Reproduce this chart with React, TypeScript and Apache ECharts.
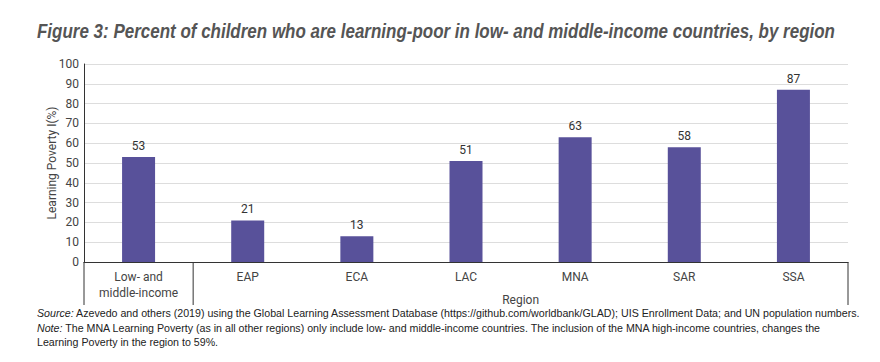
import React, { useEffect, useRef } from "react";
import * as echarts from "echarts";

const categories = ["Low- and\nmiddle-income", "EAP", "ECA", "LAC", "MNA", "SAR", "SSA"];
const values = [53, 21, 13, 51, 63, 58, 87];
const yMin = 0;
const yMax = 100;
const yInterval = 10;
const titleText =
  "Figure 3: Percent of children who are learning-poor in low- and middle-income countries, by region";
const groupName = "Region";
const yAxisName = "Learning Poverty I(%)";
const sourceLabel = "Source:";
const sourceLine1 =
  " Azevedo and others (2019) using the Global Learning Assessment Database (https://github.com/worldbank/GLAD); UIS Enrollment Data; and UN population numbers.";
const noteLabel = "Note:";
const noteLine =
  " The MNA Learning Poverty (as in all other regions) only include low- and middle-income countries. The inclusion of the MNA high-income countries, changes the";
const noteLine2 = "Learning Poverty in the region to 59%.";

const BAR = "#58519A";
const SANS = "'Liberation Sans', Arial, sans-serif";

function measure(text: string, font: string): number {
  const c = document.createElement("canvas");
  const ctx = c.getContext("2d");
  if (!ctx) return text.length * 6;
  ctx.font = font;
  return ctx.measureText(text).width;
}

export default function App() {
  const ref = useRef<HTMLDivElement>(null);
  useEffect(() => {
    document.body.style.margin = "0";
    if (!ref.current) return;
    const chart = echarts.init(ref.current, null, { renderer: "svg" });
    chart.setOption({
      animation: false,
      backgroundColor: "#ffffff",
      grid: { left: 84, right: 32, top: 64, bottom: 100, containLabel: false },
      xAxis: {
        type: "category",
        data: categories,
        axisLine: { show: true, lineStyle: { color: "#333333", width: 1 } },
        axisTick: { show: false },
        axisLabel: {
          fontFamily: "Roboto, sans-serif",
          fontSize: 12,
          color: "#444444",
          margin: 7,
          lineHeight: 16,
          interval: 0,
        },
      },
      yAxis: {
        type: "value",
        min: yMin,
        max: yMax,
        interval: yInterval,
        name: yAxisName,
        nameLocation: "middle",
        nameGap: 26,
        nameMoveOverlap: false,
        nameTextStyle: { fontFamily: "Roboto, sans-serif", fontSize: 12, color: "#444444" },
        axisLine: { show: true, lineStyle: { color: "#333333", width: 1 } },
        axisTick: { show: false },
        axisLabel: { fontFamily: "Roboto, sans-serif", fontSize: 12, color: "#444444", margin: 5 },
        splitLine: { show: true, lineStyle: { color: "#dddddd", width: 1 } },
      },
      series: [
        {
          type: "bar",
          data: values,
          barWidth: 33,
          itemStyle: { color: BAR },
          label: {
            show: true,
            position: "top",
            distance: 5,
            fontFamily: "Roboto, sans-serif",
            fontSize: 12,
            color: "#333333",
          },
        },
      ],
    });

    const y0 = chart.convertToPixel({ yAxisIndex: 0 }, 0) as number;
    const c0 = chart.convertToPixel({ xAxisIndex: 0 }, 0) as number;
    const c1 = chart.convertToPixel({ xAxisIndex: 0 }, 1) as number;
    const cLast = chart.convertToPixel({ xAxisIndex: 0 }, categories.length - 1) as number;
    const band = c1 - c0;
    const xL = c0 - band / 2;
    const xM = c0 + band / 2;
    const xR = cLast + band / 2;
    const yEnd = y0 + 43;
    const lineStyle = { stroke: "#333333", lineWidth: 1 };

    const titleSize = 20;
    const titleW = measure(titleText, `italic bold ${titleSize}px ${SANS}`);
    const titleScale = 798 / titleW;

    const srcSize = 11.5;
    const srcW =
      measure(sourceLabel, `italic ${srcSize}px ${SANS}`) + measure(sourceLine1, `${srcSize}px ${SANS}`);
    const srcScale = 824 / srcW;

    const rich = {
      i: { fontFamily: SANS, fontStyle: "italic", fontSize: srcSize, fill: "#222222" },
      n: { fontFamily: SANS, fontSize: srcSize, fill: "#222222" },
    };

    chart.setOption({
      graphic: [
        {
          type: "text",
          x: 37,
          y: 31,
          scaleX: titleScale,
          style: {
            text: titleText,
            fontFamily: SANS,
            fontStyle: "italic",
            fontWeight: "bold",
            fontSize: titleSize,
            fill: "#555555",
            verticalAlign: "middle",
          },
        },
        { type: "line", shape: { x1: xL, y1: y0, x2: xL, y2: yEnd }, style: lineStyle },
        { type: "line", shape: { x1: xM, y1: y0, x2: xM, y2: yEnd }, style: lineStyle },
        { type: "line", shape: { x1: xR, y1: y0, x2: xR, y2: yEnd }, style: lineStyle },
        {
          type: "text",
          x: (xM + xR) / 2,
          y: y0 + 38,
          style: {
            text: groupName,
            fontFamily: "Roboto, sans-serif",
            fontSize: 12,
            fill: "#444444",
            align: "center",
            verticalAlign: "middle",
          },
        },
        {
          type: "text",
          x: 37,
          y: 313,
          scaleX: srcScale,
          style: {
            text: `{i|${sourceLabel}}{n|${sourceLine1}}`,
            verticalAlign: "middle",
            rich,
          },
        },
        {
          type: "text",
          x: 37,
          y: 328,
          scaleX: srcScale,
          style: {
            text: `{i|${noteLabel}}{n|${noteLine}}`,
            verticalAlign: "middle",
            rich,
          },
        },
        {
          type: "text",
          x: 37,
          y: 342,
          scaleX: srcScale,
          style: {
            text: noteLine2,
            fontFamily: SANS,
            fontSize: srcSize,
            fill: "#222222",
            verticalAlign: "middle",
          },
        },
      ],
    });
    return () => chart.dispose();
  }, []);
  return <div ref={ref} style={{ width: 880, height: 362 }} />;
}
